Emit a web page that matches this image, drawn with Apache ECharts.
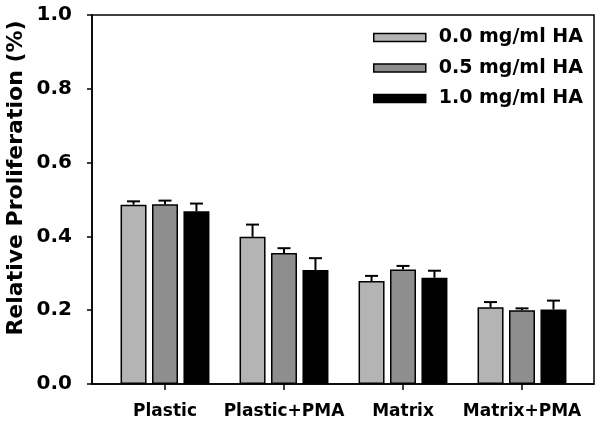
<!DOCTYPE html>
<html>
<head>
<meta charset="utf-8">
<script src="https://cdn.jsdelivr.net/npm/echarts@6/dist/echarts.min.js"></script>
<style>
html,body{margin:0;padding:0;background:#fff;}
#c{width:600px;height:427px;}
</style>
</head>
<body>
<div id="c"></div>
<script>
const categories = ['Plastic', 'Plastic+PMA', 'Matrix', 'Matrix+PMA'];
const seriesNames = ['0.0 mg/ml HA', '0.5 mg/ml HA', '1.0 mg/ml HA'];
const ha00 = [0.486, 0.399, 0.279, 0.208];
const ha05 = [0.487, 0.355, 0.310, 0.200];
const ha10 = [0.468, 0.309, 0.288, 0.202];
const err00 = [0.009, 0.033, 0.014, 0.014];
const err05 = [0.010, 0.013, 0.010, 0.005];
const err10 = [0.021, 0.032, 0.019, 0.024];
const yTicks = [0.0, 0.2, 0.4, 0.6, 0.8, 1.0];

const values = [ha00, ha05, ha10];
const errors = [err00, err05, err10];
const colors = ['#b4b4b4', '#8e8e8e', '#000000'];
const FONT = 'DejaVu Sans';
const BAR_W = 26;
const BAR_GAP = 0.21;
const step = BAR_W * (1 + BAR_GAP);

const chart = echarts.init(document.getElementById('c'), null, {renderer: 'canvas'});

const barSeries = values.map((v, i) => ({
  name: seriesNames[i],
  type: 'bar',
  xAxisIndex: 1,
  yAxisIndex: 1,
  data: v,
  barWidth: BAR_W,
  barGap: (BAR_GAP * 100) + '%',
  itemStyle: {color: colors[i], borderColor: '#000', borderWidth: 1.5, decal: null},
  emphasis: {disabled: true},
  z: 2
}));

const errSeries = values.map((v, i) => ({
  type: 'custom',
  xAxisIndex: 1,
  yAxisIndex: 1,
  z: 3,
  silent: true,
  data: v.map((val, j) => [j, val, errors[i][j]]),
  renderItem: function (params, api) {
    const c = api.value(0), val = api.value(1), e = api.value(2);
    const base = api.coord([c, val]);
    const top = api.coord([c, val + e]);
    const x = base[0] + (i - 1) * step;
    const half = 6.5;
    return {
      type: 'group',
      children: [
        {type: 'line', shape: {x1: x, y1: base[1], x2: x, y2: top[1]}, style: {stroke: '#000', lineWidth: 2}},
        {type: 'line', shape: {x1: x - half, y1: top[1], x2: x + half, y2: top[1]}, style: {stroke: '#000', lineWidth: 2}}
      ]
    };
  }
}));

chart.setOption({
  animation: false,
  backgroundColor: '#fff',
  grid: [
    {left: 92, right: 6, top: 15, bottom: 43, show: true, borderColor: '#000', borderWidth: 1.5, backgroundColor: 'transparent'},
    {left: 105.5, right: 18.5, top: 15, bottom: 43}
  ],
  legend: {
    data: seriesNames,
    orient: 'vertical',
    left: 373,
    top: 28,
    padding: 0,
    icon: 'rect',
    itemWidth: 52,
    itemHeight: 8,
    itemGap: 11.5,
    selectedMode: false,
    itemStyle: {borderColor: '#000', borderWidth: 1.5},
    textStyle: {fontFamily: FONT, fontWeight: 'bold', fontSize: 19, color: '#000', lineHeight: 19, padding: [0, 0, 0, 8]}
  },
  xAxis: [
    {type: 'value', gridIndex: 0, min: 0, max: 1, axisLabel: {show: false}, axisTick: {show: false}, splitLine: {show: false},
     axisLine: {show: true, lineStyle: {color: '#000', width: 1.5}}},
    {type: 'category', gridIndex: 1, data: categories, boundaryGap: true,
     axisLine: {show: false},
     axisTick: {show: true, alignWithLabel: true, length: 6, lineStyle: {color: '#000', width: 1.5}},
     axisLabel: {fontFamily: FONT, fontWeight: 'bold', fontSize: 17, color: '#000', margin: 19, interval: 0},
     splitLine: {show: false}}
  ],
  yAxis: [
    {type: 'value', gridIndex: 0, min: yTicks[0], max: yTicks[yTicks.length - 1], interval: 0.2,
     axisLine: {show: true, lineStyle: {color: '#000', width: 1.5}},
     axisTick: {show: true, length: 5, lineStyle: {color: '#000', width: 1.5}},
     axisLabel: {fontFamily: FONT, fontWeight: 'bold', fontSize: 20, color: '#000', margin: 20, formatter: v => v.toFixed(1)},
     splitLine: {show: false}},
    {type: 'value', gridIndex: 1, min: yTicks[0], max: yTicks[yTicks.length - 1], show: false, splitLine: {show: false}}
  ],
  graphic: [{
    type: 'text',
    rotation: Math.PI / 2,
    x: 16, y: 178,
    style: {text: 'Relative Proliferation (%)', fontFamily: FONT, fontWeight: 'bold', fontSize: 22, fill: '#000', align: 'center', verticalAlign: 'middle'}
  }],
  series: barSeries.concat(errSeries)
});
</script>
</body>
</html>
